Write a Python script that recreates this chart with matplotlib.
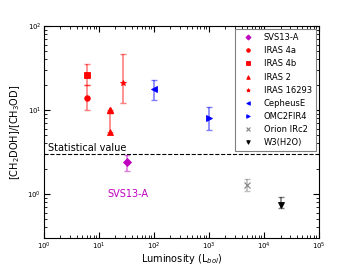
import numpy as np
import matplotlib
matplotlib.use("Agg")
import matplotlib.pyplot as plt

# fuentes: nombre, luminosidad, cociente, error abajo, error arriba
names   = ["SVS13-A", "IRAS 4a", "IRAS 4b", "IRAS 2", "IRAS 16293",
           "CepheusE", "OMC2FIR4", "Orion IRc2", "W3(H2O)"]
lum     = [32, 6, 6, 16, 27, 100, 1000, 5000, 20000]
ratio   = [2.4, 14, 26, 5.4, 21, 17.8, 8.0, 1.28, 0.75]
err_lo  = [0.5, 4, 6, 0.0, 9, 4.8, 2.2, 0.19, 0.06]
err_hi  = [0.5, 6, 9, 4.6, 25, 4.9, 2.9, 0.22, 0.17]
markers = ["D", "o", "s", "^", "*", "<", ">", "x", "v"]
colors  = ["m", "r", "r", "r", "r", "b", "b", "grey", "k"]

iras2_top = 10.0
stat_value = 3.0

plt.rcParams["font.family"] = "DejaVu Sans"
fig = plt.figure(figsize=(3.54, 2.65), dpi=100)
ax = fig.add_axes([0.124, 0.102, 0.777, 0.80])

for i in range(len(names)):
    ax.errorbar(lum[i], ratio[i], yerr=[[err_lo[i]], [err_hi[i]]], fmt="none",
                ecolor=colors[i], alpha=0.5, capsize=2, elinewidth=1.2)
    ax.plot(lum[i], ratio[i], linestyle="none", marker=markers[i], color=colors[i],
            markersize=4, markeredgewidth=0.6 if markers[i] != "x" else 0.8,
            label=names[i])
# IRAS 2 es un rango, triangulo arriba tambien
ax.plot(lum[3], iras2_top, linestyle="none", marker="^", color="r", markersize=4)

ax.axhline(stat_value, color="k", linestyle="--", linewidth=0.8)
ax.text(1.2, stat_value * 1.07, "Statistical value", fontsize=7, color="k")
ax.text(14, 1.0, "SVS13-A", fontsize=7, color="m", va="center")

ax.set_xscale("log")
ax.set_yscale("log")
ax.set_xlim(1, 1e5)
ax.set_ylim(0.3, 100)
ax.set_xlabel(r"Luminosity (L$_{bol}$)", fontsize=7, labelpad=0)
ax.set_ylabel(r"[CH$_2$DOH]/[CH$_3$OD]", fontsize=7, labelpad=4)
ax.tick_params(which="both", direction="in", top=True, right=True, labelsize=5, pad=2)
ax.tick_params(which="major", length=4)
ax.tick_params(which="minor", length=2)
ax.yaxis.set_minor_formatter(matplotlib.ticker.NullFormatter())

leg = ax.legend(loc="upper right", fontsize=6, numpoints=1, fancybox=False,
                handlelength=2.2, borderpad=0.45, labelspacing=0.5,
                framealpha=1, edgecolor="grey", borderaxespad=0.4, markerscale=0.65)
leg.get_frame().set_linewidth(0.8)

fig.savefig("out.png", dpi=100)
